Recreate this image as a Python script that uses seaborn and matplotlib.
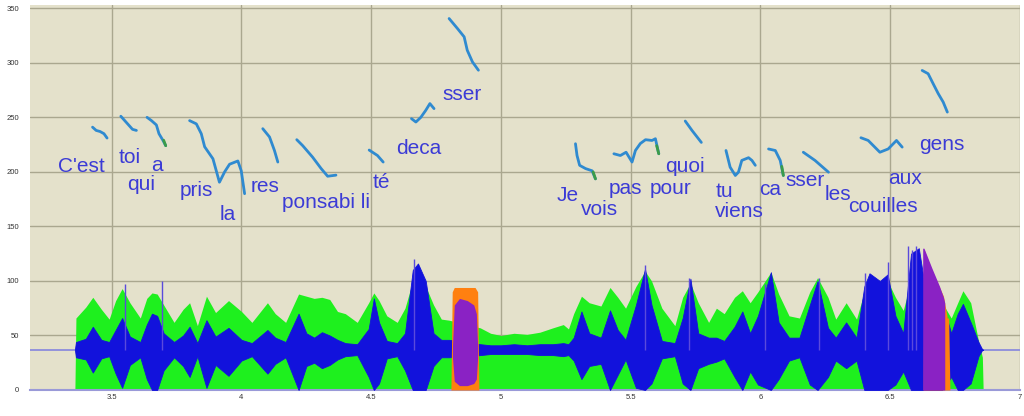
import matplotlib
matplotlib.use("Agg")
import matplotlib.pyplot as plt
import seaborn as sns

# ---------------- data ----------------
x_ticks = [3.5, 4, 4.5, 5, 5.5, 6, 6.5, 7]
x_tick_labels = ["3.5", "4", "4.5", "5", "5.5", "6", "6.5", "7"]
y_ticks = [0, 50, 100, 150, 200, 250, 300, 350]
y_tick_labels = ["0", "50", "100", "150", "200", "250", "300", "350"]

baseline_level = 37

# waveform envelope (time, green envelope top, blue waveform top, blue waveform bottom)
wave_t = [3.358, 3.362, 3.40, 3.427, 3.46, 3.49, 3.515, 3.54, 3.57, 3.61, 3.635, 3.655,
          3.675, 3.70, 3.74, 3.775, 3.80, 3.83, 3.865, 3.90, 3.95, 4.00, 4.04, 4.10,
          4.13, 4.17, 4.22, 4.25, 4.28, 4.31, 4.34, 4.37, 4.40, 4.446, 4.49, 4.51,
          4.53, 4.56, 4.60, 4.63, 4.66, 4.68, 4.71, 4.74, 4.77, 4.80, 4.92, 4.96,
          5.00, 5.05, 5.10, 5.15, 5.20, 5.24, 5.26, 5.28, 5.31, 5.34, 5.385, 5.42,
          5.45, 5.48, 5.52, 5.555, 5.58, 5.62, 5.67, 5.70, 5.73, 5.76, 5.80, 5.83,
          5.86, 5.90, 5.93, 5.96, 5.99, 6.04, 6.07, 6.11, 6.15, 6.19, 6.22, 6.26,
          6.29, 6.33, 6.37, 6.40, 6.42, 6.46, 6.49, 6.52, 6.55, 6.58, 6.61, 6.63,
          6.70, 6.735, 6.76, 6.78, 6.81, 6.84, 6.855, 6.858]
green_top = [0, 66, 76, 85, 74, 65, 82, 93, 80, 66, 84, 89,
             88, 78, 62, 74, 80, 59, 86, 71, 82, 72, 62, 80,
             70, 62, 88, 86, 84, 85, 83, 72, 70, 62, 80, 89,
             82, 68, 62, 75, 100, 106, 95, 78, 65, 64, 57, 52,
             50, 52, 51, 53, 57, 60, 56, 70, 86, 80, 77, 94,
             85, 75, 95, 109, 100, 75, 59, 85, 98, 80, 62, 75,
             70, 85, 91, 80, 90, 108, 88, 68, 66, 90, 103, 85,
             65, 80, 65, 90, 97, 95, 100, 85, 73, 100, 110, 100,
             80, 66, 80, 91, 80, 45, 30, 0]
blue_top = [37, 44, 47, 58, 46, 44, 55, 66, 49, 44, 60, 70,
            68, 52, 44, 50, 58, 43, 64, 49, 57, 46, 43, 55,
            48, 44, 70, 52, 48, 53, 50, 46, 43, 42, 56, 84,
            62, 45, 43, 52, 110, 116, 100, 52, 46, 46, 42, 41,
            41, 42, 41, 42, 42, 43, 42, 48, 72, 52, 48, 73,
            55, 46, 78, 111, 78, 45, 43, 66, 102, 52, 48, 48,
            45, 58, 72, 52, 68, 108, 62, 48, 48, 78, 100, 57,
            48, 62, 48, 95, 107, 100, 106, 68, 52, 125, 130, 100,
            80, 52, 70, 79, 62, 44, 37, 37]
blue_bot = [37, 30, 28, 16, 29, 31, 15, 2, 23, 30, 10, 0,
            0, 18, 30, 22, 12, 31, 2, 23, 13, 27, 31, 15,
            24, 30, 0, 22, 25, 20, 23, 28, 31, 32, 12, 0,
            6, 29, 31, 18, 0, 0, 0, 22, 30, 30, 32, 33,
            33, 33, 33, 32, 32, 31, 32, 27, 10, 22, 24, 0,
            14, 28, 2, 0, 6, 29, 31, 6, 0, 20, 24, 26,
            29, 12, 0, 17, 5, 0, 10, 27, 30, 5, 0, 12,
            27, 20, 27, 0, 0, 0, 0, 5, 17, 0, 0, 0,
            0, 12, 0, 0, 6, 31, 37, 37]

# thin spikes in the waveform
spike_t = [3.55, 3.695, 4.665, 5.555, 5.726, 6.018, 6.227, 6.404, 6.49, 6.57, 6.585, 6.60]
spike_top = [97, 100, 120, 115, 103, 97, 103, 107, 117, 132, 128, 132]

# orange / purple marked regions
orange1_t = [4.807, 4.812, 4.82, 4.90, 4.91, 4.915]
orange1_top = [0, 90, 94, 94, 90, 0]
purple1_t = [4.813, 4.82, 4.84, 4.87, 4.895, 4.905, 4.91]
purple1_top = [40, 78, 84, 82, 78, 70, 40]
purple1_bot = [30, 8, 4, 4, 6, 10, 30]
orange2_t = [6.627, 6.63, 6.66, 6.69, 6.705, 6.72, 6.725, 6.73]
orange2_top = [0, 129, 110, 94, 86, 66, 66, 0]
purple2_t = [6.625, 6.63, 6.66, 6.69, 6.705, 6.71]
purple2_top = [130, 130, 112, 95, 85, 80]
purple2_bot = [0, 0, 0, 0, 0, 0]

# pitch contours (time, Hz) per syllable
contours = {
    "C'est": ([3.426, 3.44, 3.455, 3.47, 3.482], [241, 238, 237, 235, 231]),
    "toi": ([3.535, 3.55, 3.565, 3.58, 3.595], [251, 247, 243, 239, 238]),
    "a": ([3.636, 3.653, 3.672, 3.682, 3.697, 3.708], [250, 247, 243, 235, 229, 224]),
    "pris la": ([3.80, 3.826, 3.845, 3.858, 3.89, 3.915, 3.935, 3.954, 3.986, 3.999, 4.012],
                [247, 244, 235, 223, 212, 190.5, 200, 207, 210, 201, 180]),
    "res": ([4.082, 4.108, 4.127, 4.14], [239.6, 232, 219.6, 209]),
    "ponsabili": ([4.213, 4.236, 4.274, 4.307, 4.332, 4.364], [229.5, 224, 213.5, 203, 196, 197]),
    "té": ([4.492, 4.524, 4.546], [220, 215, 209]),
    "deca": ([4.655, 4.672, 4.691, 4.71, 4.726, 4.742], [248.8, 245.7, 250, 256.4, 262.6, 258]),
    "sser": ([4.80, 4.832, 4.858, 4.87, 4.89, 4.913], [340.6, 331.5, 323.8, 311.5, 300.8, 293.2]),
    "Je vois": ([5.287, 5.293, 5.303, 5.326, 5.351, 5.364], [225.8, 215, 206, 203, 201, 193.6]),
    "pas pour": ([5.435, 5.460, 5.482, 5.505, 5.518, 5.537, 5.557, 5.582, 5.595, 5.608],
                 [216.6, 215, 218, 209, 219.6, 226, 229.5, 228.8, 230.4, 216.6]),
    "quoi": ([5.71, 5.736, 5.772], [246.6, 238, 227]),
    "tu viens": ([5.867, 5.883, 5.903, 5.915, 5.928, 5.954, 5.967, 5.98],
                 [219.6, 204.3, 196.7, 199.7, 210.5, 213, 210.5, 206]),
    "ca": ([6.031, 6.057, 6.076, 6.088], [221, 219.6, 210.5, 196.7]),
    "sser2": ([6.165, 6.21, 6.262], [218, 210.5, 199.7]),
    "aux": ([6.387, 6.415, 6.46, 6.492, 6.524, 6.546], [231.3, 228.8, 218, 221, 228.8, 222.7]),
    "gens": ([6.623, 6.646, 6.665, 6.685, 6.704, 6.72], [293, 290, 281, 271.7, 264, 254.8]),
}
# short green (unvoiced) tails at the end of some contours
tails = [([3.700, 3.708], [229, 224]), ([5.355, 5.364], [200, 193.6]),
         ([5.600, 5.608], [224, 216.6]), ([6.082, 6.088], [205, 196.7])]

# syllable labels (text, time, Hz at baseline)
word_text = ["C'est", "toi", "qui", "a", "pris", "la", "res", "ponsabi li", "té", "deca", "sser",
             "Je", "vois", "pas", "pour", "quoi", "tu", "viens", "ca", "sser", "les",
             "couilles", "aux", "gens"]
word_t = [3.2935, 3.528, 3.56, 3.653, 3.762, 3.915, 4.037, 4.157, 4.505, 4.597, 4.774,
          5.214, 5.307, 5.415, 5.573, 5.631, 5.826, 5.826, 5.995, 6.095, 6.249,
          6.338, 6.492, 6.61]
word_y = [200, 208, 183, 200.6, 178, 156, 182, 167, 185, 216.6, 265.6,
          173.7, 160, 180, 180, 200, 177, 158.5, 179, 186.6, 174.5,
          163, 189, 219.6]

# ---------------- style ----------------
bg = "#e4e1cb"
grid_c = "#aaa78f"
sns.set_style("whitegrid", {"axes.facecolor": bg, "grid.color": grid_c})
plt.rcParams["font.family"] = ["Liberation Sans", "DejaVu Sans"]

fig = plt.figure(figsize=(10.24, 4.16), dpi=100)
fig.patch.set_facecolor("white")
ax = fig.add_axes([30 / 1024, 26 / 416, 990 / 1024, 385 / 416])
ax.set_facecolor(bg)

# baseline reference line
ax.axhline(baseline_level, color="#8c8cdc", lw=1.3, zorder=1)

# waveform
ax.fill_between(wave_t, 0, green_top, color="#1ef01e", lw=0, zorder=2)
ax.fill_between(wave_t, blue_bot, blue_top, color="#1212dc", lw=0.6, ec="#1212dc", zorder=3)
ax.vlines(spike_t, baseline_level, spike_top, color="#5a4adc", lw=1.0, zorder=3)

ax.fill_between(orange1_t, 0, orange1_top, color="#ff8010", lw=0, zorder=4)
ax.fill_between(purple1_t, purple1_bot, purple1_top, color="#8a22c4", lw=0, zorder=5)
ax.fill_between(orange2_t, 0, orange2_top, color="#ff8010", lw=0, zorder=4)
ax.fill_between(purple2_t, purple2_bot, purple2_top, color="#8a22c4", lw=0, zorder=5)

# pitch contours
for name, (ts, fs) in contours.items():
    sns.lineplot(x=ts, y=fs, ax=ax, color="#2f8ad0", lw=2.0, sort=False,
                 estimator=None, zorder=6)
for ts, fs in tails:
    sns.lineplot(x=ts, y=fs, ax=ax, color="#3c9c48", lw=2.0, sort=False,
                 estimator=None, zorder=7)

# words
for txt, t, f in zip(word_text, word_t, word_y):
    ax.text(t, f, txt, color="#3b3bd6", fontsize=15, ha="left", va="baseline", zorder=8)

# axes
ax.set_xlim(3.185, 7.0)
ax.set_ylim(0, 353)
ax.set_xticks(x_ticks)
ax.set_xticklabels(x_tick_labels)
ax.set_yticks(y_ticks)
ax.set_yticklabels(y_tick_labels)
ax.tick_params(axis="both", length=0, labelsize=5.5, colors="#333333")
ax.tick_params(axis="x", pad=3)
ax.tick_params(axis="y", pad=8)
ax.grid(True, color=grid_c, lw=1.0)
ax.set_axisbelow(True)
for s in ["left", "top", "right"]:
    ax.spines[s].set_visible(False)
ax.spines["bottom"].set_color("#9a9ad8")
ax.spines["bottom"].set_linewidth(1.5)
ax.set_xlabel("")
ax.set_ylabel("")

fig.savefig("out.png", dpi=100, facecolor="white")
